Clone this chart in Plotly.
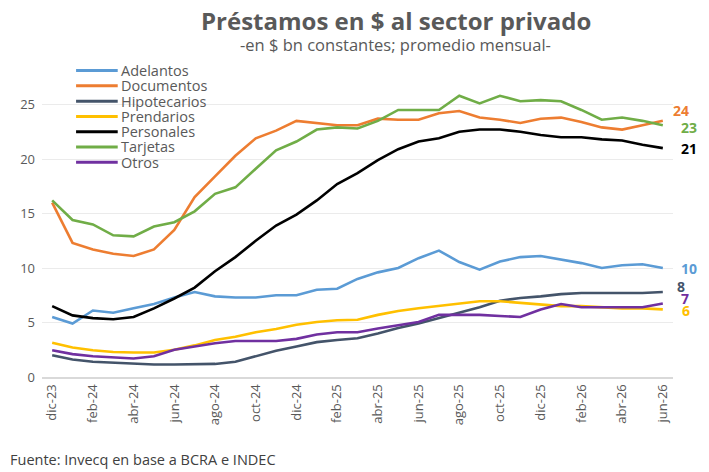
import plotly.graph_objects as go

meses = ["dic-23", "ene-24", "feb-24", "mar-24", "abr-24", "may-24", "jun-24", "jul-24",
         "ago-24", "sep-24", "oct-24", "nov-24", "dic-24", "ene-25", "feb-25", "mar-25",
         "abr-25", "may-25", "jun-25", "jul-25", "ago-25", "sep-25", "oct-25", "nov-25",
         "dic-25", "ene-26", "feb-26", "mar-26", "abr-26", "may-26", "jun-26"]

adelantos = [5.5, 4.9, 6.1, 5.9, 6.3, 6.7, 7.3, 7.8, 7.4, 7.3, 7.3, 7.5, 7.5, 8.0, 8.1, 9.0,
             9.6, 10.0, 10.9, 11.6, 10.55, 9.85, 10.6, 11.0, 11.1, 10.8, 10.45, 10.0, 10.25, 10.35, 10.0]
documentos = [16.0, 12.3, 11.7, 11.3, 11.1, 11.7, 13.5, 16.5, 18.4, 20.3, 21.9, 22.6, 23.5, 23.3, 23.1, 23.1,
              23.7, 23.6, 23.6, 24.2, 24.4, 23.8, 23.6, 23.3, 23.7, 23.8, 23.4, 22.9, 22.7, 23.1, 23.5]
hipotecarios = [2.0, 1.6, 1.4, 1.3, 1.2, 1.15, 1.15, 1.15, 1.2, 1.4, 1.9, 2.4, 2.8, 3.2, 3.4, 3.55,
                4.0, 4.5, 4.9, 5.4, 5.9, 6.4, 7.0, 7.25, 7.4, 7.6, 7.7, 7.7, 7.7, 7.7, 7.8]
prendarios = [3.15, 2.7, 2.45, 2.3, 2.25, 2.25, 2.5, 2.9, 3.4, 3.7, 4.1, 4.4, 4.8, 5.05, 5.2, 5.25,
              5.7, 6.05, 6.3, 6.5, 6.7, 6.95, 6.95, 6.8, 6.6, 6.5, 6.5, 6.4, 6.3, 6.3, 6.2]
personales = [6.5, 5.65, 5.4, 5.3, 5.5, 6.3, 7.2, 8.2, 9.7, 11.0, 12.5, 13.9, 14.9, 16.2, 17.7, 18.7,
              19.9, 20.9, 21.6, 21.9, 22.5, 22.7, 22.7, 22.5, 22.2, 22.0, 22.0, 21.8, 21.7, 21.3, 21.0]
tarjetas = [16.2, 14.4, 14.0, 13.0, 12.9, 13.8, 14.2, 15.2, 16.8, 17.4, 19.1, 20.8, 21.6, 22.7, 22.9, 22.8,
            23.5, 24.5, 24.5, 24.5, 25.8, 25.1, 25.8, 25.3, 25.4, 25.3, 24.5, 23.6, 23.8, 23.5, 23.1]
otros = [2.45, 2.1, 1.9, 1.8, 1.7, 1.9, 2.5, 2.8, 3.1, 3.3, 3.3, 3.3, 3.5, 3.9, 4.1, 4.1,
         4.45, 4.75, 5.05, 5.7, 5.7, 5.7, 5.6, 5.5, 6.2, 6.7, 6.4, 6.4, 6.4, 6.4, 6.75]

FONT = "Open Sans"

# name, values, colour, end label, label x/y shift
series = [
    ("Adelantos", adelantos, "#5B9BD5", "10", 26, 0),
    ("Documentos", documentos, "#ED7D31", "24", 18, 10),
    ("Hipotecarios", hipotecarios, "#44546A", "8", 18, 5),
    ("Prendarios", prendarios, "#FFC000", "6", 23, -1),
    ("Personales", personales, "#000000", "21", 26, 0),
    ("Tarjetas", tarjetas, "#70AD47", "23", 26, -2),
    ("Otros", otros, "#7030A0", "7", 22, 5),
]

x = list(range(len(meses)))
fig = go.Figure()
for name, vals, color, lbl, dx, dy in series:
    fig.add_trace(go.Scatter(x=x, y=vals, mode="lines", name=name, showlegend=False,
                             line=dict(color=color, width=2.6)))
    fig.add_annotation(x=x[-1], y=vals[-1], text="<b>%s</b>" % lbl, showarrow=False,
                       xanchor="center", yanchor="middle", xshift=dx, yshift=dy,
                       font=dict(color=color, size=14, family=FONT))

# legend drawn by hand to keep the tight spacing of the original
for i, (name, vals, color, lbl, dx, dy) in enumerate(series):
    yy = 0.937 - i * 0.0467
    fig.add_shape(type="line", xref="paper", yref="paper", x0=0.054, x1=0.12, y0=yy, y1=yy,
                  line=dict(color=color, width=3))
    fig.add_annotation(xref="paper", yref="paper", x=0.122, y=yy, text=name, showarrow=False,
                       xanchor="left", yanchor="middle",
                       font=dict(size=14.5, color="#595959", family=FONT))

fig.add_annotation(xref="paper", yref="paper", x=0.561, y=1.09, yanchor="middle",
                   text="<b>Préstamos en $ al sector privado</b>", showarrow=False,
                   font=dict(size=24, color="#595959", family=FONT))
fig.add_annotation(xref="paper", yref="paper", x=0.561, y=1.017, yanchor="middle",
                   text="-en $ bn constantes; promedio mensual-", showarrow=False,
                   font=dict(size=16.5, color="#595959", family=FONT))
fig.add_annotation(xref="paper", yref="paper", x=-0.054, y=-0.253, xanchor="left", yanchor="middle",
                   text="Fuente: Invecq en base a BCRA e INDEC", showarrow=False,
                   font=dict(size=14.5, color="#404040", family=FONT))

fig.update_layout(
    width=709, height=472,
    margin=dict(l=34, r=44, t=42, b=103),
    plot_bgcolor="white", paper_bgcolor="white",
    font=dict(family=FONT, color="#595959", size=13),
    xaxis=dict(range=[-0.5, 30.5], tickvals=x[::2], ticktext=meses[::2], tickangle=-90,
               showgrid=False, showline=True, linecolor="#D9D9D9", linewidth=2,
               ticks="", tickfont=dict(size=13, color="#595959"), zeroline=False,
               automargin=False),
    yaxis=dict(range=[0, 30], tickvals=[0, 5, 10, 15, 20, 25], showgrid=True,
               gridcolor="#EBEBEB", gridwidth=1, zeroline=False, showline=False,
               tickfont=dict(size=13, color="#595959"), ticklabelstandoff=6,
               automargin=False),
)

fig.write_html("out.html")
